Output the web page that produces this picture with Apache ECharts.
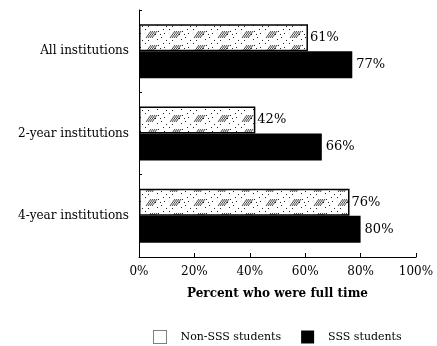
<!DOCTYPE html>
<html><head><meta charset="utf-8">
<script src="https://cdn.jsdelivr.net/npm/echarts@6/dist/echarts.min.js"></script>
<style>html,body{margin:0;padding:0;background:#fff}#c{width:437px;height:346px}</style>
</head><body><div id="c"></div>
<script>
var categories = ['All institutions', '2-year institutions', '4-year institutions'];
var nonSSS = [61, 42, 76];
var sss = [77, 66, 80];
var xTicks = [0, 20, 40, 60, 80, 100];
var seriesNames = ['Non-SSS students', 'SSS students'];

function makePattern() {
  var c = document.createElement('canvas');
  c.width = 24; c.height = 14;
  var g = c.getContext('2d');
  g.fillStyle = '#ffffff'; g.fillRect(0, 0, 24, 14);
  g.strokeStyle = '#444'; g.lineWidth = 1;
  for (var i = 0; i < 4; i++) {
    g.beginPath(); g.moveTo(2 + i * 2, 10); g.lineTo(7 + i * 2, 3); g.stroke();
  }
  g.fillStyle = '#222';
  [[14, 3], [17, 9], [13, 11], [20, 5], [1, 1], [11, 6], [22, 12], [19, 1], [4, 12], [16, 6]].forEach(function (p) { g.fillRect(p[0], p[1], 1, 1); });
  return c;
}
var pat = makePattern();
var font = '"DejaVu Serif", "Liberation Serif", serif';
var chart = echarts.init(document.getElementById('c'));
chart.setOption({
  animation: false,
  textStyle: { fontFamily: font, color: '#000' },
  grid: { left: 139, top: 10, width: 277, height: 247, containLabel: false },
  xAxis: {
    type: 'value', min: 0, max: 100, interval: 20,
    axisLine: { show: true, lineStyle: { color: '#000', width: 1 } },
    axisTick: { show: true, inside: true, length: 4, lineStyle: { color: '#000' } },
    splitLine: { show: false },
    axisLabel: { formatter: function (v) { return xTicks.indexOf(v) >= 0 ? v + '%' : ''; }, fontSize: 12, color: '#000', fontFamily: font, margin: 9 },
    name: 'Percent who were full time', nameLocation: 'middle', nameGap: 31,
    nameTextStyle: { fontSize: 12, fontWeight: 'bold', color: '#000', fontFamily: font }
  },
  yAxis: {
    type: 'category', data: categories, inverse: true,
    axisLine: { show: true, lineStyle: { color: '#000', width: 1 } },
    axisTick: { show: true, inside: true, length: 3, lineStyle: { color: '#000' } },
    axisLabel: { fontSize: 12, color: '#000', fontFamily: font, margin: 10 }
  },
  legend: {
    bottom: 2, left: 153, padding: 0, itemWidth: 13, itemHeight: 13, itemGap: 20,
    textStyle: { fontSize: 11, fontFamily: font, color: '#000', padding: [0, 0, 0, 9] },
    data: [
      { name: seriesNames[0], icon: 'rect', itemStyle: { color: '#fff', borderColor: '#000', borderWidth: 1, borderType: 'dotted' } },
      { name: seriesNames[1], icon: 'rect', itemStyle: { color: '#000' } }
    ]
  },
  series: [
    {
      name: seriesNames[0], type: 'bar', data: nonSSS, barWidth: 27, barGap: '0%',
      itemStyle: { color: { image: pat, repeat: 'repeat' }, borderColor: '#000', borderWidth: 1.5 },
      label: { show: true, position: 'right', distance: 2, formatter: '{c}%', fontSize: 13, fontFamily: font, color: '#000' }
    },
    {
      name: seriesNames[1], type: 'bar', data: sss, barWidth: 27, barGap: '0%',
      itemStyle: { color: '#000' },
      label: { show: true, position: 'right', distance: 4, formatter: '{c}%', fontSize: 13, fontFamily: font, color: '#000' }
    }
  ]
});
</script></body></html>
